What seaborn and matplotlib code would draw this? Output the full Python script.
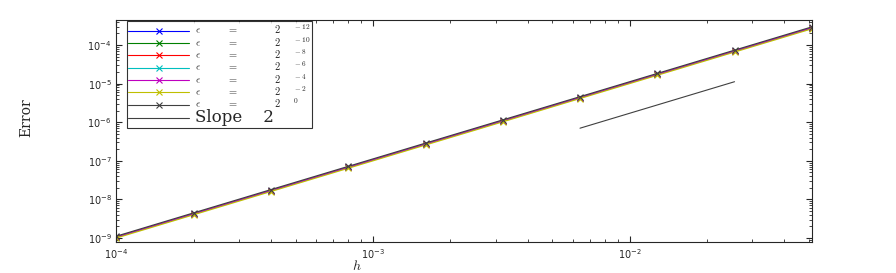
import numpy as np
import pandas as pd
import seaborn as sns
import matplotlib.pyplot as plt

# Gitterweiten h
h = [1.0e-4, 2.0e-4, 4.0e-4, 8.0e-4, 1.6e-3, 3.2e-3, 6.4e-3, 1.28e-2, 2.56e-2, 5.12e-2]

# Fehler je epsilon
err_m12 = [1.06e-9, 4.25e-9, 1.70e-8, 6.80e-8, 2.72e-7, 1.09e-6, 4.35e-6, 1.74e-5, 6.96e-5, 2.78e-4]
err_m10 = [1.06e-9, 4.25e-9, 1.70e-8, 6.80e-8, 2.72e-7, 1.09e-6, 4.35e-6, 1.74e-5, 6.96e-5, 2.78e-4]
err_m8 = [1.06e-9, 4.25e-9, 1.70e-8, 6.80e-8, 2.72e-7, 1.09e-6, 4.35e-6, 1.74e-5, 6.96e-5, 2.78e-4]
err_m6 = [1.06e-9, 4.25e-9, 1.70e-8, 6.80e-8, 2.72e-7, 1.09e-6, 4.35e-6, 1.74e-5, 6.96e-5, 2.78e-4]
err_m4 = [1.06e-9, 4.25e-9, 1.70e-8, 6.80e-8, 2.72e-7, 1.09e-6, 4.35e-6, 1.74e-5, 6.96e-5, 2.78e-4]
err_m2 = [1.00e-9, 4.00e-9, 1.60e-8, 6.40e-8, 2.56e-7, 1.02e-6, 4.10e-6, 1.64e-5, 6.55e-5, 2.62e-4]
err_0 = [1.12e-9, 4.50e-9, 1.80e-8, 7.20e-8, 2.88e-7, 1.15e-6, 4.60e-6, 1.84e-5, 7.37e-5, 2.95e-4]

# Referenzgerade Steigung 2
slope_h = [6.4e-3, 2.56e-2]
slope_err = [7.0e-7, 1.12e-5]

exponenten = ['-12', '-10', '-8', '-6', '-4', '-2', '0']
labels = [r'$\epsilon\qquad\quad=\qquad\qquad2^{\qquad' + e + r'}$' for e in exponenten]
farben = ['#0000ff', '#008000', '#ff0000', '#00bfbf', '#bf00bf', '#bfbf00', '#404040']
fehler = [err_m12, err_m10, err_m8, err_m6, err_m4, err_m2, err_0]

zeilen = []
for lab, werte in zip(labels, fehler):
    for hh, e in zip(h, werte):
        zeilen.append({'h': hh, 'Error': e, 'eps': lab})
df = pd.DataFrame(zeilen)

sns.set_style('ticks')
plt.rcParams['font.family'] = ['DejaVu Sans']
plt.rcParams['mathtext.fontset'] = 'cm'

fig, ax = plt.subplots(figsize=(8.96, 2.73), dpi=100)
fig.subplots_adjust(left=0.13, right=0.906, top=0.927, bottom=0.114)

sns.lineplot(data=df, x='h', y='Error', hue='eps', palette=dict(zip(labels, farben)),
             marker='x', markersize=4, linewidth=0.8, ax=ax, legend=False)
for line in ax.lines:
    line.set_markeredgecolor(line.get_color())
    line.set_markeredgewidth(0.8)
sns.lineplot(x=slope_h, y=slope_err, color='#404040', linewidth=0.8, ax=ax)

ax.set_xscale('log')
ax.set_yscale('log')
ax.set_xlim(1e-4, 5.12e-2)
ax.set_ylim(10 ** -9.1, 10 ** -3.35)
ax.tick_params(which='both', direction='in', top=True, right=True, labelsize=7)
ax.tick_params(which='major', length=4)
ax.tick_params(which='minor', length=2)
for s in ax.spines.values():
    s.set_linewidth(0.8)

ax.set_xlabel(r'$h$', fontsize=10)
ax.xaxis.set_label_coords(0.345, -0.075)
ax.set_ylabel('Error', fontsize=10, family='serif')
ax.yaxis.set_label_coords(-0.12, 0.56)

# Legende aus den gezeichneten Linien
handles = ax.lines[:len(labels) + 1]
leg = ax.legend(handles, labels + ['Slope    2'], loc='upper left', bbox_to_anchor=(0.015, 0.995),
                fontsize=7.5, handlelength=5.8, labelspacing=-0.12, handletextpad=0.6,
                frameon=True, fancybox=False, borderpad=0.15, borderaxespad=0)
leg.get_frame().set_edgecolor('black')
leg.get_frame().set_linewidth(0.8)
leg.texts[-1].set_fontsize(12)
leg.texts[-1].set_family('serif')

plt.savefig('out.png')
plt.close()
